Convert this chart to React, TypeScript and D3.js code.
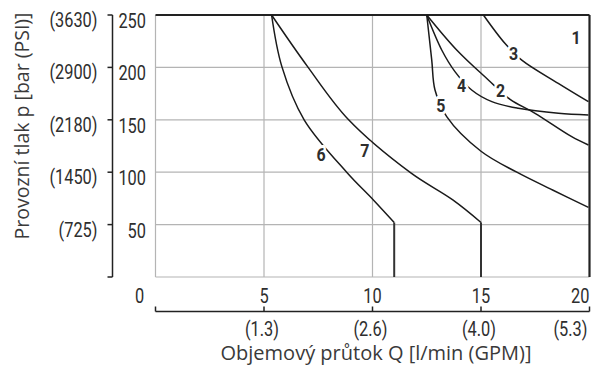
import React from 'react';
import * as d3 from 'd3';

// flow Q [l/min] ticks and their GPM equivalents
const flowTicks = [0, 5, 10, 15, 20];
const gpmLabels = ['', '(1.3)', '(2.6)', '(4.0)', '(5.3)'];

// pressure p [bar] ticks and PSI equivalents
const pressureTicks = [0, 50, 100, 150, 200, 250];
const psiLabels = ['', '(725)', '(1450)', '(2180)', '(2900)', '(3630)'];

// curves: [Q, p]
const curve2: [number, number][] = [[12.5, 250], [13.88, 216.6], [15.34, 188], [16.34, 169.5], [17.49, 156.2], [19.18, 133.9], [19.95, 126]];
const curve3: [number, number][] = [[15.11, 250], [16.1, 223], [16.88, 207], [18.56, 184.8], [19.95, 167.3]];
const curve4: [number, number][] = [[12.5, 250], [13.19, 216.6], [13.8, 196], [14.57, 178.4], [15.5, 167.3], [16.72, 161], [18.57, 156.2], [19.95, 154.6]];
const curve5: [number, number][] = [[12.5, 250], [12.73, 207], [12.88, 178.4], [13.42, 153], [15.0, 120], [16.65, 100], [18.3, 83], [19.95, 66.5]];
const curve6: [number, number][] = [[5.35, 250], [5.82, 201], [6.85, 150], [8.81, 100], [10.04, 73.5], [11.0, 52]];
const curve7: [number, number][] = [[5.35, 250], [7.0, 201], [8.9, 150], [11.75, 99.5], [13.7, 73.5], [15.0, 52]];
const curves = [curve2, curve3, curve4, curve5, curve6, curve7];

// vertical flow limits below the curve ends
const limits: [number, number][] = [[11.0, 52], [15.0, 52]];

const curveLabels = ['1', '2', '3', '4', '5', '6', '7'];
const labelQ = [19.38, 15.9, 16.5, 14.1, 13.15, 7.63, 9.65];
const labelP = [229, 178, 214, 183.5, 164, 117, 121];

const W = 592;
const H = 365;

const tickFont = 'Roboto, sans-serif';
const titleFont = '"Open Sans", "Noto Sans", sans-serif';

// condensed-looking text: Roboto squeezed horizontally
const NarrowText = ({ x, y, anchor, size, bold, children }: any) => (
    <text transform={`translate(${x},${y}) scale(0.84,1)`} dy="0.36em" textAnchor={anchor}
        fontFamily={tickFont} fontSize={size} fontWeight={bold ? 'bold' : 'normal'} fill="#2e2e2e"
        stroke={bold ? 'white' : 'none'} strokeWidth={bold ? 6 : 0} paintOrder="stroke" strokeLinejoin="round">
        {children}
    </text>
);

const App = () => {
    const x = d3.scaleLinear().domain([0, 20]).range([155.5, 589.5]);
    const y = d3.scaleLinear().domain([0, 250]).range([277, 15]);
    const line = d3.line<[number, number]>()
        .x(d => x(d[0]))
        .y(d => y(d[1]))
        .curve(d3.curveCatmullRom.alpha(0.5));

    const axisX = 112.5;
    const bottomY = 311.5;

    return (
        <svg width={W} height={H} style={{ position: 'absolute', left: 0, top: 0 }}>
            <rect width={W} height={H} fill="white" />

            {/* grid */}
            {flowTicks.slice(0, 4).map(t => (
                <line key={'gx' + t} x1={x(t)} x2={x(t)} y1={y(0)} y2={y(250)} stroke="#b4b4b4" strokeWidth={1.2} />
            ))}
            {pressureTicks.slice(0, 5).map(t => (
                <line key={'gy' + t} x1={x(0)} x2={x(20)} y1={y(t)} y2={y(t)} stroke="#b4b4b4" strokeWidth={1.2} />
            ))}

            {/* curve 1: max pressure and max flow */}
            <line x1={x(0)} x2={x(20)} y1={y(250)} y2={y(250)} stroke="#222" strokeWidth={1.8} />
            <line x1={x(20)} x2={x(20)} y1={y(250)} y2={y(0)} stroke="#222" strokeWidth={2.2} />

            {curves.map((c, i) => (
                <path key={'c' + i} d={line(c) || ''} fill="none" stroke="#1a1a1a" strokeWidth={1.5} />
            ))}
            {limits.map((l, i) => (
                <line key={'l' + i} x1={x(l[0])} x2={x(l[0])} y1={y(l[1])} y2={y(0)} stroke="#333" strokeWidth={2} />
            ))}

            {curveLabels.map((t, i) => (
                <NarrowText key={'cl' + t} x={x(labelQ[i])} y={y(labelP[i])} anchor="middle" size={19} bold>{t}</NarrowText>
            ))}

            {/* left pressure axis */}
            <line x1={axisX} x2={axisX} y1={y(250)} y2={y(0)} stroke="#222" strokeWidth={1.5} />
            {pressureTicks.map((t, i) => (
                <g key={'yt' + t}>
                    <line x1={axisX - 5} x2={axisX} y1={y(t)} y2={y(t)} stroke="#222" strokeWidth={1.5} />
                    {t > 0 && <NarrowText x={146} y={y(t) + 6} anchor="end" size={19.5}>{t}</NarrowText>}
                    {psiLabels[i] && <NarrowText x={97.5} y={y(t) + 5} anchor="end" size={19.5}>{psiLabels[i]}</NarrowText>}
                </g>
            ))}
            <text transform="translate(29,126) rotate(-90)" textAnchor="middle" fontFamily={titleFont} fontSize={19.5} fill="#3a3a3a">
                Provozní tlak p [bar (PSI)]
            </text>

            {/* flow tick labels l/min */}
            {flowTicks.map((t, i) => (
                <NarrowText key={'xt' + t} x={i === 0 ? 139.5 : x(t)} y={296} anchor={i === 4 ? 'end' : 'middle'} size={19.5}>{t}</NarrowText>
            ))}

            {/* bottom GPM axis */}
            <line x1={x(0)} x2={x(20)} y1={bottomY} y2={bottomY} stroke="#222" strokeWidth={1.5} />
            {flowTicks.map((t, i) => (
                <g key={'gt' + t}>
                    <line x1={x(t)} x2={x(t)} y1={bottomY - 5} y2={bottomY} stroke="#222" strokeWidth={1.5} />
                    {gpmLabels[i] && (
                        <NarrowText x={x(t) - 2} y={328.5} anchor={i === 4 ? 'end' : 'middle'} size={19.5}>{gpmLabels[i]}</NarrowText>
                    )}
                </g>
            ))}
            <text x={376} y={359.5} textAnchor="middle" fontFamily={titleFont} fontSize={20} fill="#3a3a3a">
                Objemový průtok Q [l/min (GPM)]
            </text>
        </svg>
    );
};

export default App;
